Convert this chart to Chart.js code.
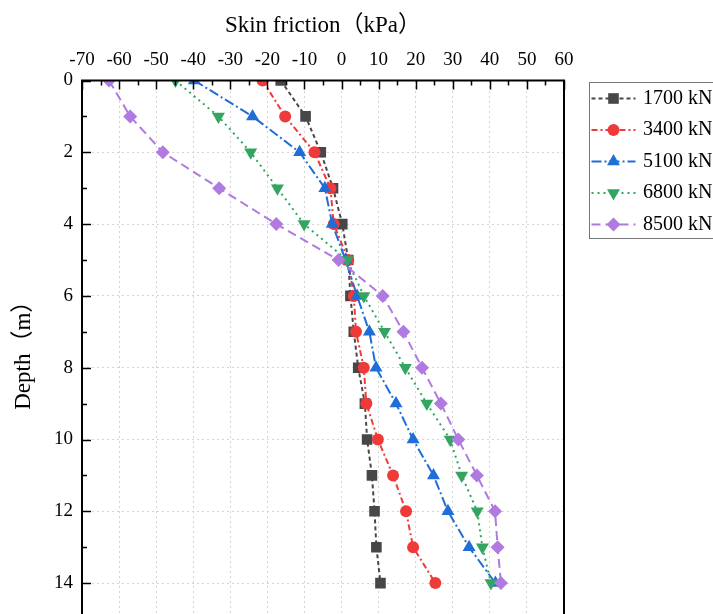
<!DOCTYPE html>
<html>
<head>
<meta charset="utf-8">
<title>Skin friction vs depth</title>
<script src="https://cdn.jsdelivr.net/npm/chart.js@4.4.1/dist/chart.umd.min.js"></script>
<style>
  html, body { margin: 0; padding: 0; background: #fff; overflow: hidden; }
  #wrap { position: relative; width: 713px; height: 640px; }
</style>
</head>
<body>
<div id="wrap"><canvas id="frictionChart"></canvas></div>
<script>
/* skin friction (kPa) along the pile, one series per load step */

const depths  = [0, 1, 2, 3, 4, 5, 6, 7, 8, 9, 10, 11, 12, 13, 14];
const f1700 = [-16.4, -9.7, -5.6, -2.3, 0.2, 1.8, 2.4, 3.3, 4.5, 6.3, 6.9, 8.2, 8.9, 9.4, 10.5];
const f3400 = [-21.3, -15.2, -7.3, -3.0, -2.1, 1.8, 3.3, 3.9, 6.0, 6.7, 9.8, 13.9, 17.4, 19.3, 25.3];
const f5100 = [-39.7, -24.0, -11.3, -4.5, -2.5, 1.1, 4.2, 7.5, 9.3, 14.7, 19.3, 24.8, 28.7, 34.4, 41.5];
const f6800 = [-44.8, -33.2, -24.5, -17.3, -10.1, 1.5, 6.0, 11.6, 17.2, 23.0, 29.3, 32.4, 36.6, 38.0, 40.3];
const f8500 = [-62.7, -57.0, -48.2, -33.0, -17.6, -0.8, 11.1, 16.7, 21.7, 26.8, 31.5, 36.5, 41.4, 42.1, 43.0];

const loadLabels = ['1700 kN', '3400 kN', '5100 kN', '6800 kN', '8500 kN'];
const xTitle = 'Skin friction（kPa）';
const yTitle = 'Depth（m）';

const SERIF = '"Liberation Serif", "Times New Roman", "Noto Sans CJK SC", serif';

// colour, dash, marker per series
const STYLES = [
  { color: '#474747', dash: [4, 3],        shape: 'rect',     r: 7.5, rot: 0 },
  { color: '#f03a3a', dash: [6, 3, 2, 3],  shape: 'circle',   r: 6,   rot: 0 },
  { color: '#1f6ed8', dash: [10, 3, 2, 3], shape: 'triangle', r: 7.5, rot: 0 },
  { color: '#34a560', dash: [2, 4],        shape: 'triangle', r: 7.5, rot: 180 },
  { color: '#b07ae0', dash: [9, 5],        shape: 'rectRot',  r: 7,   rot: 0 },
];

function series(vals) {
  return vals.map((v, i) => ({ x: v, y: depths[i] }));
}

const datasets = [f1700, f3400, f5100, f6800, f8500].map((vals, i) => {
  const s = STYLES[i];
  return {
    label: loadLabels[i],
    data: series(vals),
    showLine: true,
    borderColor: s.color, borderWidth: 2, borderDash: s.dash,
    pointStyle: s.shape, pointRotation: s.rot, pointRadius: s.r,
    pointBackgroundColor: s.color, pointBorderColor: s.color, pointBorderWidth: 0,
    pointHoverRadius: s.r,
    order: 4 - i,   // later series on top
  };
});

/** plot frame + inward major/minor ticks */
const frameTicks = {
  id: 'frameTicks',
  afterDatasetsDraw(chart) {
    const { ctx, chartArea: a, scales: { x, y } } = chart;
    ctx.save();
    ctx.strokeStyle = '#000';
    ctx.lineWidth = 1.5;
    ctx.beginPath();
    for (let v = x.min; v <= x.max; v += 5) {
      const px = Math.round(x.getPixelForValue(v)) + 0.5;
      ctx.moveTo(px, a.top);
      ctx.lineTo(px, a.top + (v % 10 === 0 ? 9 : 5));
    }
    for (let v = 0; v <= y.max; v += 1) {
      const py = Math.round(y.getPixelForValue(v)) + 0.5;
      ctx.moveTo(a.left, py);
      ctx.lineTo(a.left + (v % 2 === 0 ? 9 : 5), py);
    }
    ctx.stroke();
    ctx.lineWidth = 2;
    ctx.strokeRect(a.left, a.top, a.right - a.left, a.bottom - a.top);
    ctx.restore();
  }
};

/** boxed legend: line - marker - line, then label */
const boxLegend = {
  id: 'boxLegend',
  afterDraw(chart) {
    const { ctx } = chart;
    const x0 = 589.5, y0 = 82.5, rowH = 31.5;
    ctx.save();
    ctx.strokeStyle = '#777';
    ctx.lineWidth = 1;
    ctx.strokeRect(x0, y0, 140, 156);
    chart.data.datasets.forEach((ds, i) => {
      const cy = y0 + 16 + i * rowH;
      ctx.strokeStyle = ds.borderColor;
      ctx.lineWidth = 2;
      ctx.setLineDash(ds.borderDash);
      ctx.beginPath();
      ctx.moveTo(x0 + 2, cy);
      ctx.lineTo(x0 + 46, cy);
      ctx.stroke();
      ctx.setLineDash([]);
      ctx.fillStyle = ds.pointBackgroundColor;
      Chart.helpers.drawPoint(ctx, {
        pointStyle: ds.pointStyle, rotation: ds.pointRotation,
        radius: ds.pointRadius, borderWidth: 0
      }, x0 + 24, cy);
      ctx.fillStyle = '#000';
      ctx.font = '20px ' + SERIF;
      ctx.textBaseline = 'middle';
      ctx.textAlign = 'left';
      ctx.fillText(ds.label, 643, cy);
    });
    ctx.restore();
  }
};

new Chart(document.getElementById('frictionChart'), {
  type: 'scatter',
  data: { datasets },
  options: {
    responsive: true, maintainAspectRatio: false, animation: false,
    layout: { padding: { left: 0, top: 0, right: 149, bottom: 21 } },
    plugins: { legend: { display: false }, tooltip: { enabled: false } },
    scales: {
      x: {
        type: 'linear', position: 'top', min: -70, max: 60,
        ticks: { stepSize: 10, color: '#000', padding: 9, font: { family: SERIF, size: 19 } },
        grid: { color: '#d4d4d4', lineWidth: 1, drawTicks: false },
        border: { display: false, dash: [2, 3] },
        title: { display: true, text: xTitle, color: '#000', padding: { top: 12, bottom: 0 },
                 font: { family: SERIF, size: 23 } },
        afterFit: s => { s.height = 80.5; },
      },
      y: {
        type: 'linear', position: 'left', reverse: true, min: 0, max: 15,
        afterBuildTicks: s => { s.ticks = s.ticks.filter(t => t.value % 2 === 0); },
        ticks: { stepSize: 2, color: '#000', padding: 9, font: { family: SERIF, size: 19 } },
        grid: { color: '#d4d4d4', lineWidth: 1, drawTicks: false },
        border: { display: false, dash: [2, 3] },
        title: { display: true, text: yTitle, color: '#000', padding: { top: 10, bottom: 0 },
                 font: { family: SERIF, size: 23 } },
        afterFit: s => { s.width = 82; },
      },
    },
  },
  plugins: [frameTicks, boxLegend],
});
</script>
</body>
</html>
